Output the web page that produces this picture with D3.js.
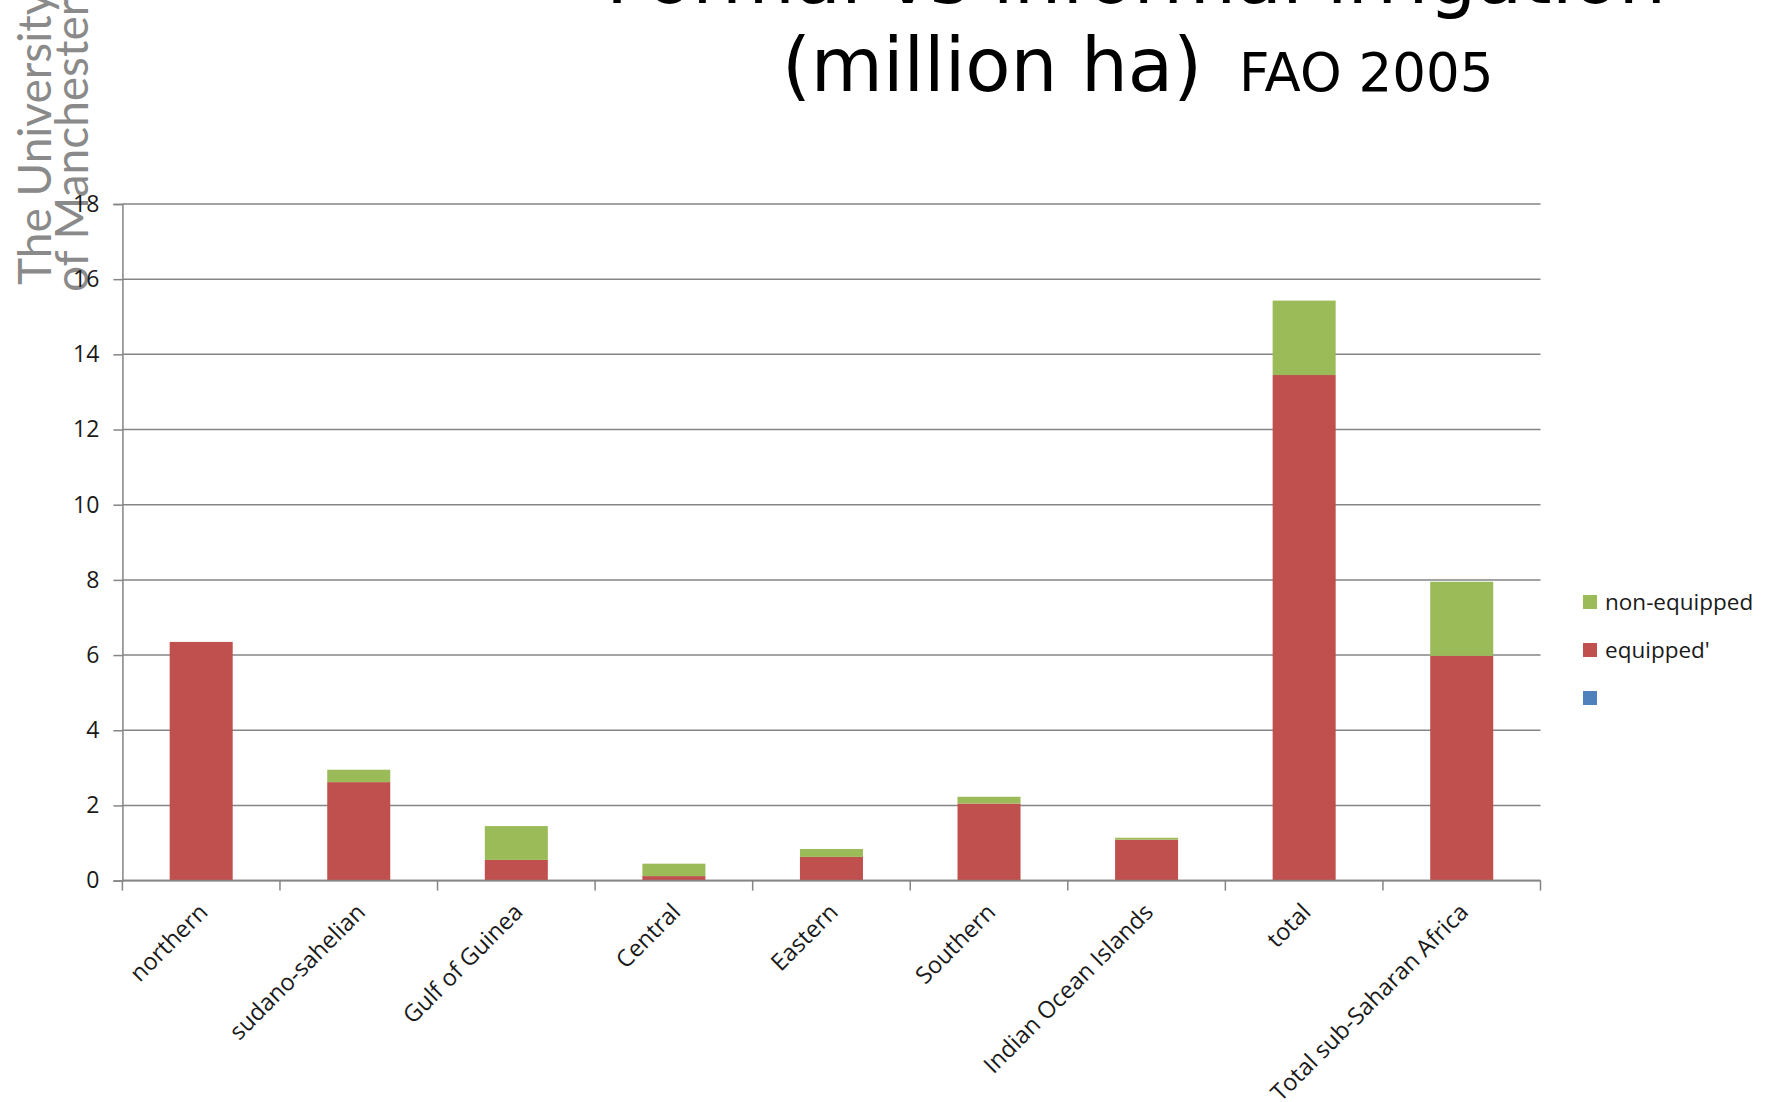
<!DOCTYPE html>
<html>
<head>
<meta charset="utf-8">
<script src="https://cdn.jsdelivr.net/npm/d3@7"></script>
<style>
  body { margin: 0; background: #fff; }
</style>
</head>
<body>
<script>
// regions and values (million ha)
const categories = ["northern", "sudano-sahelian", "Gulf of Guinea", "Central", "Eastern",
  "Southern", "Indian Ocean Islands", "total", "Total sub-Saharan Africa"];
const blank = [0, 0, 0, 0, 0, 0, 0, 0, 0];
const equipped = [6.35, 2.62, 0.55, 0.12, 0.63, 2.05, 1.09, 13.45, 5.98];
const nonEquipped = [0, 0.33, 0.9, 0.33, 0.21, 0.18, 0.05, 1.98, 1.97];
const seriesNames = ["", "equipped'", "non-equipped"];
const seriesColors = ["#4F81BD", "#C0504D", "#9BBB59"];
const yTicks = [0, 2, 4, 6, 8, 10, 12, 14, 16, 18];

const width = 1777;
const height = 1102;

const svg = d3.select("body").append("svg")
    .attr("width", width)
    .attr("height", height)
    .attr("font-family", "'Open Sans', sans-serif");

// logo text on the left
const logo = svg.append("g")
    .attr("fill", "#8a8a8a")
    .attr("font-family", "Lato, 'Open Sans', sans-serif")
    .attr("font-size", 46);
logo.append("text")
    .attr("transform", "translate(51,285) rotate(-90)")
    .text("The University");
logo.append("text")
    .attr("transform", "translate(88,292) rotate(-90)")
    .text("of Manchester");

// title (first line is cut by the top edge)
const title = svg.append("g")
    .attr("font-family", "'DejaVu Sans', sans-serif")
    .attr("fill", "#000");
title.append("text")
    .attr("x", 1136).attr("y", 3)
    .attr("text-anchor", "middle")
    .attr("font-size", 75)
    .text("Formal vs informal irrigation");
title.append("text")
    .attr("x", 782).attr("y", 91)
    .attr("font-size", 74)
    .text("(million ha)");
title.append("text")
    .attr("x", 1239).attr("y", 91)
    .attr("font-size", 53)
    .text("FAO 2005");

const x = d3.scaleBand()
    .domain(categories)
    .range([122.4, 1540.5])
    .paddingInner(0.6)
    .paddingOuter(0.3);

const y = d3.scaleLinear()
    .domain([0, 18])
    .range([880.6, 204]);

const gridColor = "#858585";

// gridlines
svg.append("g")
    .selectAll("line")
    .data(yTicks)
    .join("line")
    .attr("x1", x.range()[0]).attr("x2", x.range()[1])
    .attr("y1", d => y(d)).attr("y2", d => y(d))
    .attr("stroke", gridColor)
    .attr("stroke-width", 1.5);

// y axis
const yAxis = svg.append("g")
    .attr("transform", `translate(${x.range()[0]},0)`)
    .call(d3.axisLeft(y).tickValues(yTicks).tickSize(9).tickPadding(14));
yAxis.attr("font-family", "'Open Sans', sans-serif").attr("font-size", 23);
yAxis.select(".domain").attr("stroke", gridColor).attr("stroke-width", 1.5);
yAxis.selectAll(".tick line").attr("stroke", gridColor).attr("stroke-width", 1.5);
yAxis.selectAll(".tick text").attr("fill", "#1a1a1a");

// stacked bars
const rows = categories.map((c, i) => ({
  category: c,
  [seriesNames[0]]: blank[i],
  [seriesNames[1]]: equipped[i],
  [seriesNames[2]]: nonEquipped[i]
}));
const stack = d3.stack().keys(seriesNames)(rows);

svg.append("g")
    .selectAll("g")
    .data(stack)
    .join("g")
    .attr("fill", (d, i) => seriesColors[i])
    .selectAll("rect")
    .data(d => d.filter(p => p[1] - p[0] > 0))
    .join("rect")
    .attr("x", d => x(d.data.category))
    .attr("width", x.bandwidth())
    .attr("y", d => y(d[1]))
    .attr("height", d => y(d[0]) - y(d[1]));

// x axis with ticks at category boundaries
const step = x.step();
const x0 = x.range()[0];
const xAxis = svg.append("g");
xAxis.append("line")
    .attr("x1", x0).attr("x2", x.range()[1])
    .attr("y1", y(0)).attr("y2", y(0))
    .attr("stroke", gridColor).attr("stroke-width", 1.6);
xAxis.selectAll(".tk")
    .data(d3.range(categories.length + 1))
    .join("line")
    .attr("class", "tk")
    .attr("x1", i => x0 + i * step).attr("x2", i => x0 + i * step)
    .attr("y1", y(0)).attr("y2", y(0) + 10)
    .attr("stroke", gridColor).attr("stroke-width", 1.5);
xAxis.selectAll(".lbl")
    .data(categories)
    .join("text")
    .attr("class", "lbl")
    .attr("transform", d => `translate(${x(d) + x.bandwidth() / 2 + 8},${y(0) + 33}) rotate(-45)`)
    .attr("text-anchor", "end")
    .attr("font-size", 23.5)
    .attr("fill", "#1a1a1a")
    .text(d => d);

// legend (reverse of stack order)
const legend = svg.append("g")
    .selectAll("g")
    .data(seriesNames.map((n, i) => ({ name: n, color: seriesColors[i] })).reverse())
    .join("g")
    .attr("transform", (d, i) => `translate(1583,${602 + i * 48})`);
legend.append("rect")
    .attr("x", 0).attr("y", -7)
    .attr("width", 14).attr("height", 14)
    .attr("fill", d => d.color);
legend.append("text")
    .attr("x", 22).attr("y", 0)
    .attr("dy", "0.35em")
    .attr("font-size", 22.5)
    .attr("fill", "#1a1a1a")
    .text(d => d.name);
</script>
</body>
</html>
